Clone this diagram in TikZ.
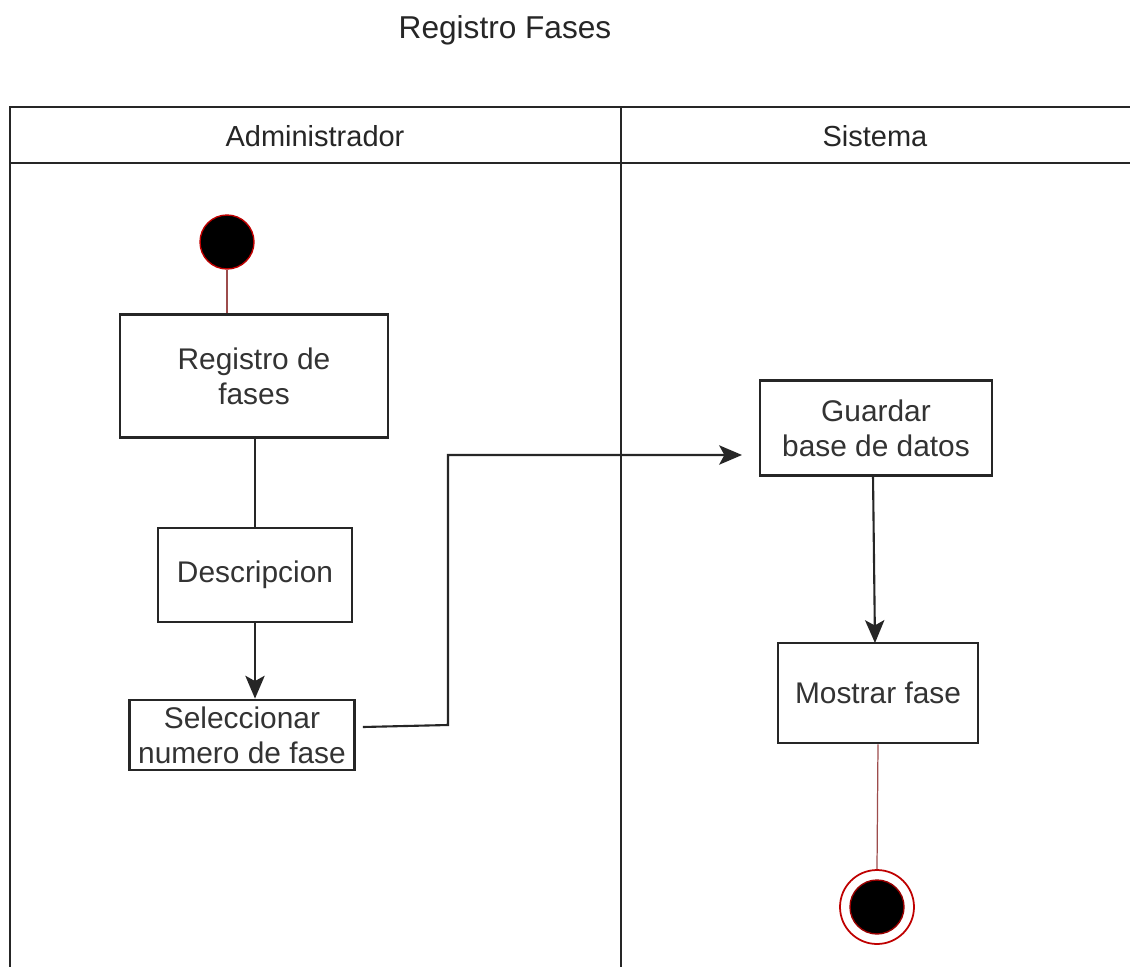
\documentclass[tikz,border=0pt]{standalone}
\usepackage{fontspec}
\setmainfont{Liberation Sans}
\usetikzlibrary{arrows.meta}
\begin{document}
\begin{tikzpicture}[x=0.02cm,y=-0.02cm,
  act/.style={draw=black!85,line width=1.6pt,fill=white,align=center,inner sep=0pt,
    text=black!80,font=\fontsize{17}{20}\selectfont},
  pool/.style={draw=black!85,line width=1.2pt},
  lanetitle/.style={text=black!85,font=\fontsize{16.5}{20}\selectfont},
  flow/.style={draw=black!85,line width=1.2pt},
  arr/.style={flow,-{Stealth[length=13pt,width=11pt,inset=3pt]}},
  redline/.style={draw=red!45!black!70,line width=0.7pt},
  startnode/.style={circle,fill=black,draw=red!75!black,line width=0.8pt,minimum size=1.08cm,inner sep=0pt},
  endouter/.style={circle,draw=red!75!black,line width=1pt,minimum size=1.48cm,inner sep=0pt},
  endinner/.style={circle,fill=black,draw=red!60!black,line width=0.8pt,minimum size=1.08cm,inner sep=0pt}]
\useasboundingbox (0,0) rectangle (1130,967);
\fill[white] (0,0) rectangle (1130,967);

% title
\node[text=black!85,font=\fontsize{18}{20}\selectfont] (title) at (505,30) {Registro Fases};

% pool
\draw[pool] (10,967) -- (10,107) -- (1135,107);
\draw[pool] (10,163) -- (1135,163);
\draw[pool] (621,107) -- (621,967);
\node[lanetitle] (admin) at (315,136) {Administrador};
\node[lanetitle] (sys) at (875,136) {Sistema};

% nodes
\node[startnode] (start) at (227,242) {};
\node[act,minimum width=268*0.02cm,minimum height=123*0.02cm] (reg) at (254,376) {Registro de\\fases};
\node[act,minimum width=194*0.02cm,minimum height=94*0.02cm] (desc) at (255,575) {Descripcion};
\node[act,minimum width=225*0.02cm,minimum height=70*0.02cm] (sel) at (242,735) {Seleccionar\\numero de fase};
\node[act,minimum width=232*0.02cm,minimum height=95*0.02cm] (guard) at (876,428) {Guardar\\base de datos};
\node[act,minimum width=200*0.02cm,minimum height=100*0.02cm] (most) at (878,693) {Mostrar fase};
\node[endouter] (endo) at (877,907) {};
\node[endinner] (endi) at (877,907) {};

% connectors
\draw[redline] (start.south) -- (reg.north -| start.south);
\draw[flow] (reg.south -| desc.north) -- (desc.north);
\draw[arr] (desc.south) -- (sel.north -| desc.south);
\coordinate (bendA) at (448,725);
\coordinate (bendB) at (448,455);
\draw[arr] (sel.east |- bendA) ++(7,2) -- (bendA) -- (bendB) -- (742,455);
\draw[arr] (873,475) -- (875,643);
\draw[redline] (most.south) -- (endo.north);
\end{tikzpicture}
\end{document}
